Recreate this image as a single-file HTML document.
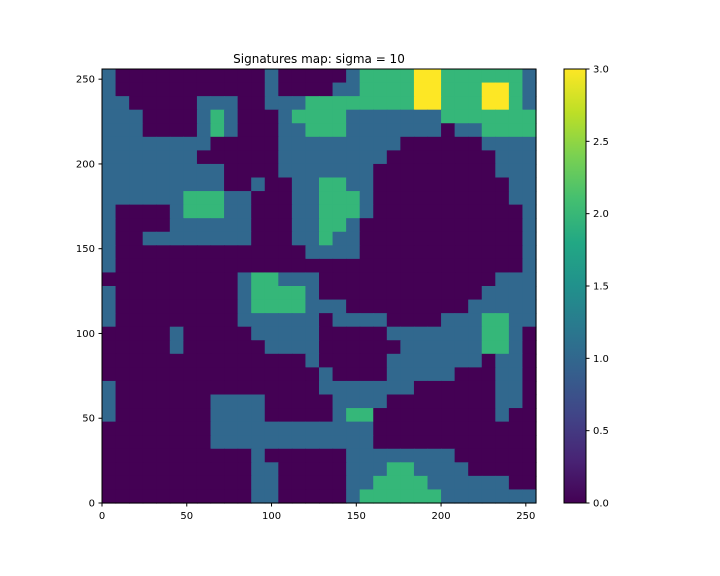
<!DOCTYPE html>
<html><head><meta charset="utf-8"><style>
html,body{margin:0;padding:0;background:#fff;}
svg{display:block;font-family:"DejaVu Sans","Liberation Sans",sans-serif;}
</style></head><body>
<svg id="chart" width="720" height="576" xmlns="http://www.w3.org/2000/svg">
<defs>
<linearGradient id="viridis" x1="0" y1="1" x2="0" y2="0">
<stop offset="0" stop-color="#440154"/><stop offset="0.1" stop-color="#482475"/><stop offset="0.2" stop-color="#414487"/>
<stop offset="0.3" stop-color="#355f8d"/><stop offset="0.4" stop-color="#2a788e"/><stop offset="0.5" stop-color="#21918c"/>
<stop offset="0.6" stop-color="#22a884"/><stop offset="0.7" stop-color="#44bf70"/><stop offset="0.8" stop-color="#7ad151"/>
<stop offset="0.9" stop-color="#bddf26"/><stop offset="1" stop-color="#fde725"/>
</linearGradient>
</defs>
<text x="319" y="63" font-size="12" text-anchor="middle" fill="#000">Signatures map: sigma = 10</text>
<g id="cells"></g>
<rect x="102" y="69" width="434" height="434" fill="none" stroke="#000" stroke-width="1"/>
<g id="xaxis"></g>
<g id="yaxis"></g>
<rect x="564" y="69" width="22" height="434" fill="url(#viridis)" stroke="#000" stroke-width="1"/>
<g id="cbaxis"></g>
</svg>
<script>
// grid rows from top (y=256) to bottom (y=0), each 8x8 data units
const gridRows = [
"10000000000010000012222332222221",
"10000000000010000112222332223321",
"11000001110011122222222332223321",
"11100001210001222211111112222222",
"11100001210001122211111110112222",
"11111111000001111111110000001111",
"11111110000001111111100000000111",
"11111111100001111111000000000111",
"11111111100100112211000000000011",
"11111122211000112221000000000011",
"10000122211000112221000000000001",
"10000111111000112210000000000001",
"10011111111000112110000000000001",
"10000000000000011110000000000001",
"10000000000000000000000000000001",
"00000000001221110000000000000111",
"10000000001222210000000000001111",
"10000000001222211100000000011111",
"10000000001111110111100001112211",
"00000100000111110000011111112210",
"00000100000011110000001111112210",
"00000000000000010000011111110110",
"00000000000000001000011111000110",
"10000000000000001111111000000110",
"10000000111100000111100000000110",
"10000000111100000122000000000100",
"00000000111111111111000000000000",
"00000000111111111111000000000000",
"00000000000100000011111111000000",
"00000000000110000011122111100000",
"00000000000110000011222211111100",
"00000000000110000012222221111111"
];
const levelColors = ["#440154","#31688e","#35b779","#fde725"];
const xTicks = [0,50,100,150,200,250];
const yTicks = [0,50,100,150,200,250];
const cbTicks = ["0.0","0.5","1.0","1.5","2.0","2.5","3.0"];
const cellSize = 8, dataMax = 256, cbMax = 3;

const NS="http://www.w3.org/2000/svg";
const X0=102, Y0=69, W=434, H=434;
const sx = v => X0 + v/dataMax*W;
const sy = v => Y0 + H - v/dataMax*H;
const cbY = v => Y0 + H - v/cbMax*H;

const cells=document.getElementById('cells');
gridRows.forEach((row,r)=>{
  const yTop = dataMax - r*cellSize;
  for(let c=0;c<row.length;c++){
    const v=+row[c];
    const rect=document.createElementNS(NS,'rect');
    
    
    const x1=sx(c*cellSize), x2=sx((c+1)*cellSize);
    const y1=sy(yTop), y2=sy(yTop-cellSize);
    rect.setAttribute('x',x1);rect.setAttribute('y',y1);
    rect.setAttribute('width',x2-x1+0.6);rect.setAttribute('height',y2-y1+0.6);
    rect.setAttribute('fill',levelColors[v]);
    cells.appendChild(rect);
  }
});
const xa=document.getElementById('xaxis');
xTicks.forEach(t=>{
  const x=sx(t);
  const l=document.createElementNS(NS,'line');
  
  
  l.setAttribute('x1',x);l.setAttribute('x2',x);l.setAttribute('y1',503);l.setAttribute('y2',506.5);l.setAttribute('stroke','#000');
  xa.appendChild(l);
  const tx=document.createElementNS(NS,'text');
  
  
  tx.setAttribute('x',x);tx.setAttribute('y',519);tx.setAttribute('font-size','10');tx.setAttribute('text-anchor','middle');
  tx.textContent=t;xa.appendChild(tx);
});
const ya=document.getElementById('yaxis');
yTicks.forEach(t=>{
  const y=sy(t);
  const l=document.createElementNS(NS,'line');
  
  
  l.setAttribute('x1',98.5);l.setAttribute('x2',102);l.setAttribute('y1',y);l.setAttribute('y2',y);l.setAttribute('stroke','#000');
  ya.appendChild(l);
  const tx=document.createElementNS(NS,'text');
  
  
  tx.setAttribute('x',95);tx.setAttribute('y',y+3.5);tx.setAttribute('font-size','10');tx.setAttribute('text-anchor','end');
  tx.textContent=t;ya.appendChild(tx);
});
const ca=document.getElementById('cbaxis');
cbTicks.forEach(t=>{
  const y=cbY(parseFloat(t));
  const l=document.createElementNS(NS,'line');
  
  
  l.setAttribute('x1',586);l.setAttribute('x2',589.5);l.setAttribute('y1',y);l.setAttribute('y2',y);l.setAttribute('stroke','#000');
  ca.appendChild(l);
  const tx=document.createElementNS(NS,'text');
  
  
  tx.setAttribute('x',593);tx.setAttribute('y',y+3.5);tx.setAttribute('font-size','10');
  tx.textContent=t;ca.appendChild(tx);
});
</script>
</body></html>
